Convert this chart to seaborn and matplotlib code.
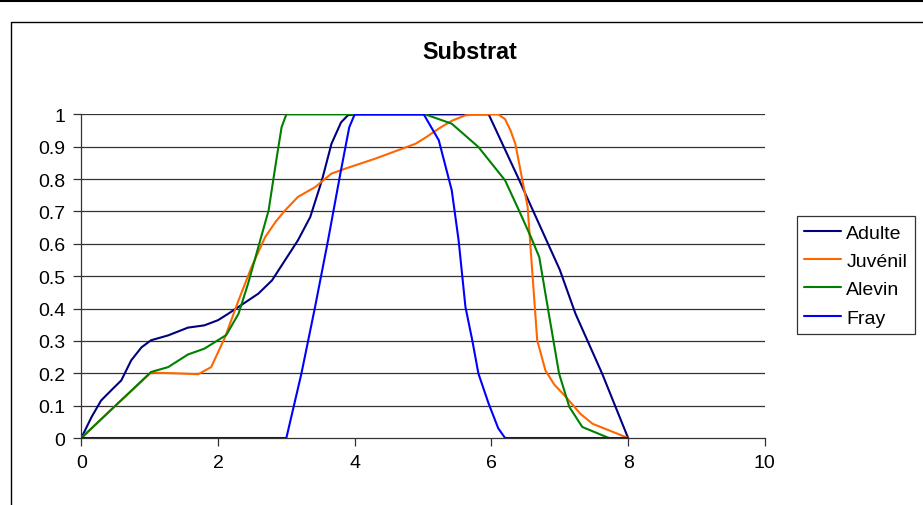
import pandas as pd
import matplotlib
matplotlib.use("Agg")
import matplotlib.pyplot as plt
from matplotlib.lines import Line2D
import seaborn as sns

# -------------------------------
# Data
# -------------------------------
series_names = ["Adulte", "Juvénil", "Alevin", "Fray"]
series_colors = ["#000080", "#FF6600", "#008000", "#0000FF"]

adulte_x = [0, 0.15, 0.29, 0.45, 0.585, 0.73, 0.88, 1.02, 1.27, 1.56, 1.80, 2.0, 2.15, 2.30, 2.59, 2.79,
            2.98, 3.17, 3.35, 3.52, 3.66, 3.80, 3.90, 4.0, 5.0, 5.96, 6.4, 7.0, 7.23, 7.62, 8.0]
adulte_y = [0, 0.065, 0.116, 0.15, 0.178, 0.24, 0.28, 0.302, 0.317, 0.341, 0.348, 0.364, 0.384, 0.405,
            0.446, 0.487, 0.549, 0.611, 0.683, 0.796, 0.909, 0.975, 0.997, 1, 1, 1, 0.8, 0.52, 0.384,
            0.199, 0]

juvenil_x = [0, 0.5, 1.02, 1.36, 1.71, 1.90, 2.10, 2.30, 2.49, 2.69, 2.85, 2.98, 3.17, 3.42, 3.66,
             3.86, 4.30, 4.89, 5.05, 5.23, 5.42, 5.62, 5.8, 6.1, 6.2, 6.28, 6.35, 6.45, 6.53, 6.60,
             6.67, 6.79, 6.92, 7.09, 7.30, 7.48, 8.0]
juvenil_y = [0, 0.1, 0.202, 0.2, 0.197, 0.219, 0.31, 0.425, 0.528, 0.621, 0.67, 0.703, 0.745, 0.775,
             0.817, 0.832, 0.863, 0.909, 0.93, 0.956, 0.98, 0.997, 1, 1, 0.985, 0.95, 0.909, 0.8,
             0.714, 0.508, 0.302, 0.209, 0.165, 0.127, 0.075, 0.044, 0]

alevin_x = [0, 0.5, 1.02, 1.27, 1.56, 1.80, 2.12, 2.30, 2.44, 2.59, 2.74, 2.86, 2.93, 3.0,
            5.03, 5.42, 5.81, 6.20, 6.41, 6.58, 6.70, 6.84, 6.99, 7.14, 7.33, 7.72]
alevin_y = [0, 0.1, 0.204, 0.219, 0.258, 0.276, 0.318, 0.384, 0.477, 0.590, 0.703, 0.868, 0.96, 1,
            1, 0.971, 0.899, 0.796, 0.70, 0.62, 0.559, 0.384, 0.199, 0.096, 0.034, 0]

fray_x = [0, 3.0, 3.22, 3.42, 3.61, 3.79, 3.92, 4.0, 5.01, 5.23, 5.42, 5.52, 5.62, 5.72,
          5.81, 5.96, 6.1, 6.20, 8.0]
fray_y = [0, 0, 0.199, 0.405, 0.611, 0.817, 0.96, 1, 1, 0.92, 0.765, 0.611, 0.405, 0.302,
          0.199, 0.106, 0.03, 0, 0]

x_ticks = [0, 2, 4, 6, 8, 10]
y_ticks = [0, 0.1, 0.2, 0.3, 0.4, 0.5, 0.6, 0.7, 0.8, 0.9, 1]
y_labels = ["0", "0.1", "0.2", "0.3", "0.4", "0.5", "0.6", "0.7", "0.8", "0.9", "1"]

# -------------------------------
# Build long table
# -------------------------------
frames = []
for name, xs, ys in zip(series_names,
                        [adulte_x, juvenil_x, alevin_x, fray_x],
                        [adulte_y, juvenil_y, alevin_y, fray_y]):
    frames.append(pd.DataFrame({"x": xs, "y": ys, "serie": name}))
df = pd.concat(frames, ignore_index=True)

# -------------------------------
# Plot
# -------------------------------
sns.set_style("white")
plt.rcParams["font.family"] = ["Liberation Sans", "DejaVu Sans"]
plt.rcParams["text.color"] = "black"
plt.rcParams["xtick.color"] = "black"
plt.rcParams["ytick.color"] = "black"

fig = plt.figure(figsize=(9.23, 5.06), dpi=100)
ax = fig.add_axes([0.0881, 0.1324, 0.7405, 0.6397])

for y in y_ticks[1:]:
    ax.axhline(y, color="#333333", lw=0.9, zorder=0)

sns.lineplot(data=df, x="x", y="y", hue="serie", hue_order=series_names,
             palette=series_colors, estimator=None, sort=False, lw=1.5,
             legend=False, ax=ax)

ax.set_xlim(0, 10)
ax.set_ylim(0, 1)
ax.set_xticks(x_ticks)
ax.set_yticks(y_ticks)
ax.set_yticklabels(y_labels)
ax.set_xlabel("")
ax.set_ylabel("")
ax.tick_params(axis="both", labelsize=14, length=5.8, width=0.9, color="#333333",
               labelcolor="black", direction="out", left=True, bottom=True, pad=5.5)
for side in ["top", "right"]:
    ax.spines[side].set_visible(False)
for side in ["left", "bottom"]:
    ax.spines[side].set_color("#333333")
    ax.spines[side].set_linewidth(0.9)
ax.patch.set_alpha(0)

fig.text(0.509, 0.897, "Substrat", ha="center", va="center",
         fontsize=16.8, fontweight="bold", color="black")

handles = [Line2D([0], [0], color=c, lw=1.5) for c in series_colors]
leg = fig.legend(handles, series_names, loc="upper left",
                 bbox_to_anchor=(796.7 / 923, 1 - 217.3 / 506), bbox_transform=fig.transFigure,
                 fontsize=14, frameon=True, fancybox=False, handlelength=1.9,
                 labelspacing=0.55, borderpad=0.4, handletextpad=0.25,
                 borderaxespad=0, labelcolor="black")
leg.get_frame().set_edgecolor("black")
leg.get_frame().set_linewidth(0.9)

# chart frame lines
fig.add_artist(Line2D([0, 1], [1 - 1.5 / 506, 1 - 1.5 / 506], color="black", lw=1.5,
                      transform=fig.transFigure))
fig.add_artist(Line2D([10.5 / 923, 10.5 / 923, 1], [0, 1 - 22.5 / 506, 1 - 22.5 / 506],
                      color="black", lw=1, transform=fig.transFigure))

plt.savefig("out.png", dpi=100)
